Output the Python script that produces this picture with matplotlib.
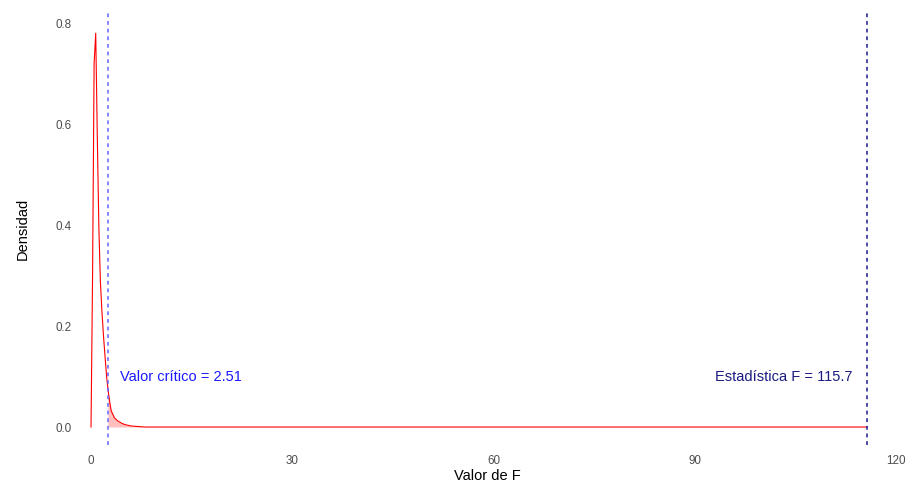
import numpy as np
import matplotlib.pyplot as plt

plt.rcParams['font.family'] = ['Liberation Sans', 'DejaVu Sans']

# density of F read at coarse steps
f_vals = [0.0, 0.23, 0.46, 0.70, 0.93, 1.16, 1.39, 1.62, 1.86, 2.09, 2.32, 2.55,
          2.78, 3.01, 3.5, 4.0, 4.5, 5.0, 6.0, 7.0, 8.0, 115.7]
density = [0.0, 0.30, 0.72, 0.78, 0.58, 0.40, 0.29, 0.23, 0.18, 0.14, 0.10, 0.072,
           0.05, 0.032, 0.018, 0.012, 0.008, 0.005, 0.002, 0.001, 0.0, 0.0]
f_crit = 2.51
f_stat = 115.7
x_ticks = [0, 30, 60, 90, 120]
y_ticks = [0.0, 0.2, 0.4, 0.6, 0.8]

f_vals = np.array(f_vals)
density = np.array(density)

fig = plt.figure(figsize=(9.06, 4.83), dpi=100)
ax = fig.add_axes([76 / 906, 38 / 483, 823 / 906, 433 / 483])

# shade the rejection region
mask = f_vals >= f_crit
xs = np.concatenate([[f_crit], f_vals[mask]])
ys = np.concatenate([[np.interp(f_crit, f_vals, density)], density[mask]])
ax.fill_between(xs, 0, ys, color='red', alpha=0.25, linewidth=0)

ax.plot(f_vals, density, color='red', linewidth=0.8)

ax.axvline(f_crit, color='#6666ff', linestyle=(0, (2.5, 2.5)), linewidth=1.1)
ax.axvline(f_stat, color='#1a1a8c', linestyle=(0, (2.5, 2.5)), linewidth=1.1)

ax.text(f_crit + 1.8, 0.1, "Valor crítico = 2.51", color='#1a1aff',
        fontsize=10.5, ha='left', va='center')
ax.text(f_stat - 2.2, 0.1, "Estadística F = 115.7", color='#1a1a80',
        fontsize=10.5, ha='right', va='center')

ax.set_xlim(-2.24, 120.45)
ax.set_ylim(-0.0356, 0.822)
ax.set_xticks(x_ticks)
ax.set_yticks(y_ticks)
ax.set_xticklabels([str(t) for t in x_ticks])
ax.set_yticklabels([f"{t:.1f}" for t in y_ticks])
ax.tick_params(length=0, labelsize=8.4, colors='#4d4d4d')
ax.tick_params(axis='x', pad=7)
ax.tick_params(axis='y', pad=3)
for s in ax.spines.values():
    s.set_visible(False)

ax.set_xlabel("Valor de F", fontsize=10.5, labelpad=2)
ax.set_ylabel("Densidad", fontsize=10.5, labelpad=19)

fig.savefig("out.png", dpi=100)
